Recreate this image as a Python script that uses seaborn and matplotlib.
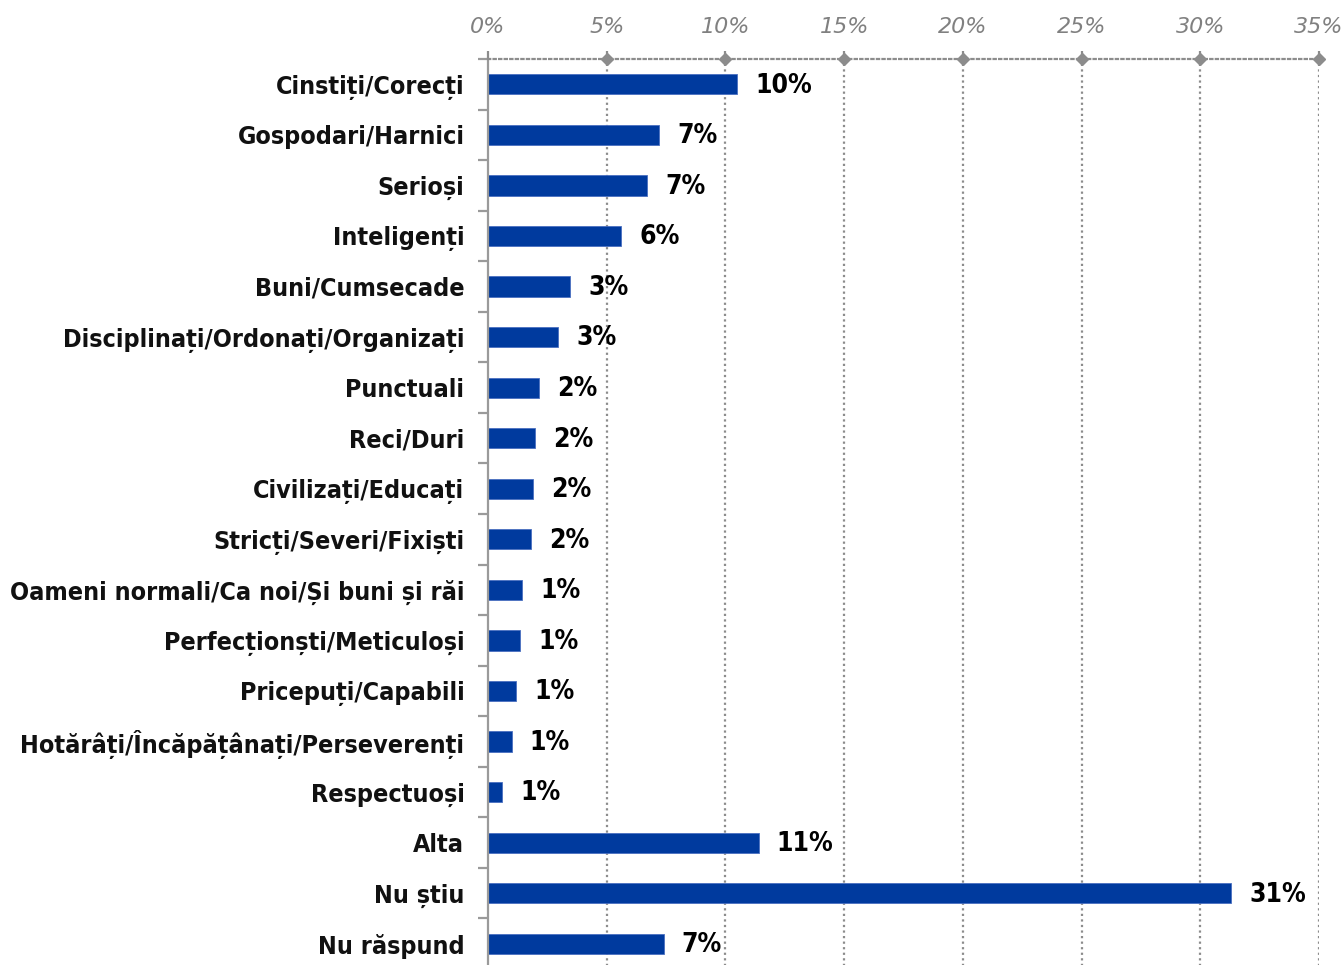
import matplotlib
matplotlib.use("Agg")
import matplotlib.pyplot as plt
import seaborn as sns
import pandas as pd
import numpy as np

categories = [
    "Cinstiți/Corecți", "Gospodari/Harnici", "Serioși", "Inteligenți",
    "Buni/Cumsecade", "Disciplinați/Ordonați/Organizați", "Punctuali",
    "Reci/Duri", "Civilizați/Educați", "Stricți/Severi/Fixiști",
    "Oameni normali/Ca noi/Și buni și răi", "Perfecționști/Meticuloși",
    "Pricepuți/Capabili", "Hotărâți/Încăpățânați/Perseverenți",
    "Respectuoși", "Alta", "Nu știu", "Nu răspund",
]
values = [10.5, 7.2, 6.7, 5.6, 3.45, 2.95, 2.15, 2.0, 1.9, 1.8,
          1.45, 1.35, 1.2, 1.0, 0.6, 11.4, 31.3, 7.4]
tick_values = [0, 5, 10, 15, 20, 25, 30, 35]
tick_labels = ["0%", "5%", "10%", "15%", "20%", "25%", "30%", "35%"]

df = pd.DataFrame({"cat": categories, "val": values})

sns.set_style("white")
plt.rcParams["font.family"] = ["DejaVu Sans"]
plt.rcParams["font.stretch"] = "condensed"

W, H = 1344, 965
fig = plt.figure(figsize=(W / 100, H / 100), dpi=100)
left, right, top, bottom = 488, 1319, 59, 969
ax = fig.add_axes([left / W, 1 - bottom / H, (right - left) / W, (bottom - top) / H])

bar_color = "#003A9E"
sns.barplot(data=df, y="cat", x="val", orient="h", color=bar_color,
            width=0.4, saturation=1, edgecolor="#4a6fc0", linewidth=0.6, ax=ax)

n = len(categories)
ax.set_xlim(0, 35)
ax.set_ylim(n - 0.5, -0.5)

# grid
grid_color = "#8c8c8c"
for t in tick_values[1:]:
    ax.axvline(t, color=grid_color, lw=1.6, ls=(0, (1, 1.5)), zorder=0)

# top axis
ax.xaxis.tick_top()
ax.set_xticks(tick_values)
ax.set_xticklabels(tick_labels, fontsize=16, style="italic", color="#808080",
                   fontstretch="normal")
ax.tick_params(axis="x", which="major", top=True, direction="out", length=6, width=1.6,
               color=grid_color, pad=10)
for tl in ax.xaxis.get_ticklines():
    tl.set_linestyle((0, (1, 1.5)))
ax.plot(tick_values[1:], [1.0] * (len(tick_values) - 1), marker="D", ms=6,
        color=grid_color, ls="none", transform=ax.get_xaxis_transform(), clip_on=False, zorder=5)

for s in ["right", "bottom"]:
    ax.spines[s].set_visible(False)
ax.spines["top"].set_color(grid_color)
ax.spines["top"].set_linestyle((0, (1, 1.5)))
ax.spines["top"].set_linewidth(1.6)
ax.spines["left"].set_color("#9a9a9a")
ax.spines["left"].set_linewidth(1.6)

# y axis labels
ax.set_yticks(range(n))
ax.set_yticklabels(categories, fontsize=18, fontweight="bold", color="#111111")
ax.tick_params(axis="y", which="major", left=True, length=0, pad=17)
ax.set_yticks(np.arange(-0.5, n, 1), minor=True)
ax.tick_params(axis="y", which="minor", left=True, direction="out", length=7, width=1.6,
               color="#9a9a9a")
ax.set_xlabel("")
ax.set_ylabel("")

# value labels
for i, v in enumerate(values):
    ax.annotate(f"{round(v)}%", xy=(v, i), xytext=(13, -1), textcoords="offset points",
                va="center", ha="left", fontsize=19, fontweight="bold", color="#000000")

fig.savefig("out.png", dpi=100)
